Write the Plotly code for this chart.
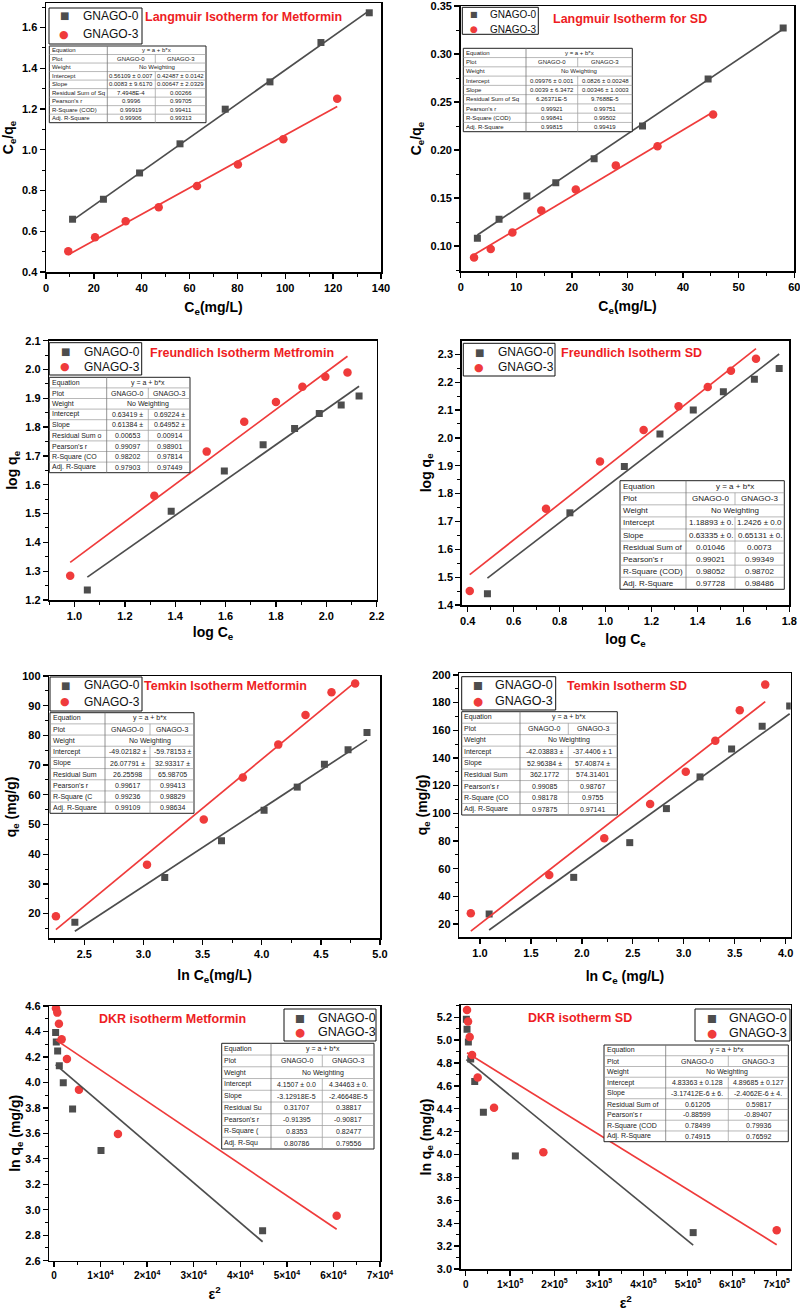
import plotly.graph_objects as go

W, H = 800, 1311
FONT = "Liberation Sans, Arial, sans-serif"
C0 = "#4d4d4d"
C3 = "#ef3b3b"
TRED = "#ee1d23"
NAMES = ["GNAGO-0", "GNAGO-3"]

# ---------------- data ----------------
# Langmuir - Metformin
lang_met_x0 = [11.1, 24.0, 39.1, 56.0, 74.9, 93.6, 114.9, 135.1]
lang_met_y0 = [0.659, 0.757, 0.886, 1.029, 1.199, 1.333, 1.526, 1.672]
lang_met_x3 = [9.3, 20.5, 33.3, 47.1, 63.1, 80.2, 99.2, 121.7]
lang_met_y3 = [0.502, 0.570, 0.649, 0.718, 0.822, 0.927, 1.052, 1.250]
lang_met_fit = [(0.56109, 0.0083), (0.42487, 0.00647)]

# Langmuir - SD
lang_sd_x0 = [3.0, 6.9, 11.9, 17.1, 24.0, 32.7, 44.5, 58.0]
lang_sd_y0 = [0.108, 0.128, 0.152, 0.166, 0.191, 0.225, 0.274, 0.327]
lang_sd_x3 = [2.4, 5.4, 9.3, 14.5, 20.7, 27.9, 35.4, 45.4]
lang_sd_y3 = [0.088, 0.097, 0.114, 0.137, 0.159, 0.184, 0.204, 0.237]
lang_sd_fit = [(0.09976, 0.0039), (0.0826, 0.00346)]

# Freundlich - Metformin
fr_met_x0 = [1.051, 1.384, 1.595, 1.749, 1.874, 1.972, 2.059, 2.130]
fr_met_y0 = [1.235, 1.508, 1.648, 1.739, 1.795, 1.847, 1.877, 1.908]
fr_met_x3 = [0.983, 1.317, 1.525, 1.674, 1.800, 1.905, 1.996, 2.084]
fr_met_y3 = [1.284, 1.562, 1.715, 1.819, 1.887, 1.940, 1.975, 1.990]
fr_met_fit = [(0.63419, 0.61384), (0.69224, 0.64952)]

# Freundlich - SD
fr_sd_x0 = [0.486, 0.845, 1.082, 1.237, 1.382, 1.513, 1.648, 1.756]
fr_sd_y0 = [1.440, 1.731, 1.897, 2.014, 2.100, 2.166, 2.211, 2.249]
fr_sd_x3 = [0.409, 0.741, 0.976, 1.166, 1.318, 1.445, 1.546, 1.655]
fr_sd_y3 = [1.450, 1.746, 1.915, 2.028, 2.114, 2.183, 2.241, 2.284]
fr_sd_fit = [(1.18893, 0.63335), (1.2426, 0.65131)]

# Temkin - Metformin
tk_met_x0 = [2.42, 3.18, 3.66, 4.02, 4.30, 4.53, 4.73, 4.89]
tk_met_y0 = [17.1, 32.2, 44.5, 54.8, 62.6, 70.3, 75.2, 81.0]
tk_met_x3 = [2.26, 3.03, 3.51, 3.84, 4.14, 4.37, 4.59, 4.79]
tk_met_y3 = [19.1, 36.5, 51.7, 65.8, 76.9, 86.9, 94.5, 97.5]
tk_met_fit = [(-49.02182, 26.07791), (-59.78153, 32.93317)]

# Temkin - SD
tk_sd_x0 = [1.09, 1.92, 2.47, 2.83, 3.16, 3.47, 3.77, 4.04]
tk_sd_y0 = [27.2, 53.7, 78.8, 103.4, 126.3, 146.5, 162.9, 177.6]
tk_sd_x3 = [0.91, 1.68, 2.22, 2.67, 3.02, 3.31, 3.55, 3.80]
tk_sd_y3 = [27.7, 55.4, 81.9, 106.7, 130.1, 152.5, 174.5, 193.0]
tk_sd_fit = [(-42.03883, 52.96384), (-37.4406, 57.40874)]

# DKR - Metformin
dkr_met_x0 = [360, 500, 790, 1150, 2000, 4000, 10100, 44800]
dkr_met_y0 = [4.391, 4.317, 4.247, 4.131, 3.998, 3.791, 3.466, 2.836]
dkr_met_x3 = [430, 720, 1070, 1650, 2790, 5370, 13740, 60700]
dkr_met_y3 = [4.582, 4.548, 4.461, 4.338, 4.184, 3.943, 3.595, 2.953]
dkr_met_fit = [(4.1507, -3.12918e-5), (4.34463, -2.46648e-5)]

# DKR - SD
dkr_sd_x0 = [1500, 3000, 6000, 11250, 20300, 39800, 111800, 512000]
dkr_sd_y0 = [5.183, 5.095, 4.984, 4.836, 4.638, 4.370, 3.988, 3.318]
dkr_sd_x3 = [3000, 5300, 9000, 14300, 27000, 63800, 174800, 700000]
dkr_sd_y3 = [5.264, 5.162, 5.028, 4.871, 4.673, 4.410, 4.020, 3.338]
dkr_sd_fit = [(4.83363, -3.17412e-6), (4.89685, -2.4062e-6)]

# tick labels for the epsilon^2 axes
eps4_vals = [0, 1e4, 2e4, 3e4, 4e4, 5e4, 6e4, 7e4]
eps4_text = ["0"] + ["%d×10<sup>4</sup>" % k for k in range(1, 8)]
eps5_vals = [0, 1e5, 2e5, 3e5, 4e5, 5e5, 6e5, 7e5]
eps5_text = ["0"] + ["%d×10<sup>5</sup>" % k for k in range(1, 8)]

# fit-report tables
def report(labels, icpt, slope, rss, pr, r2, ar2):
    return [
        (labels[0], "y = a + b*x"),
        (labels[1], "GNAGO-0", "GNAGO-3"),
        (labels[2], "No Weighting"),
        (labels[3],) + icpt,
        (labels[4],) + slope,
        (labels[5],) + rss,
        (labels[6],) + pr,
        (labels[7],) + r2,
        (labels[8],) + ar2,
    ]

def labs(rss, r2, ar2):
    return ["Equation", "Plot", "Weight", "Intercept", "Slope", rss, "Pearson's r", r2, ar2]

tab1 = report(labs("Residual Sum of Sq", "R-Square (COD)", "Adj. R-Square"),
              ("0.56109 ± 0.007", "0.42487 ± 0.0142"), ("0.0083 ± 9.6170", "0.00647 ± 2.0329"),
              ("7.4948E-4", "0.00266"), ("0.9996", "0.99705"), ("0.99919", "0.99411"), ("0.99906", "0.99313"))
tab2 = report(labs("Residual Sum of Sq", "R-Square (COD)", "Adj. R-Square"),
              ("0.09976 ± 0.001", "0.0826 ± 0.00248"), ("0.0039 ± 6.3472", "0.00346 ± 1.0003"),
              ("6.26371E-5", "9.7688E-5"), ("0.99921", "0.99751"), ("0.99841", "0.99502"), ("0.99815", "0.99419"))
tab3 = report(labs("Residual Sum o", "R-Square (CO", "Adj. R-Square"),
              ("0.63419 ±", "0.69224 ±"), ("0.61384 ±", "0.64952 ±"),
              ("0.00653", "0.00914"), ("0.99097", "0.98901"), ("0.98202", "0.97814"), ("0.97903", "0.97449"))
tab4 = report(labs("Residual Sum of", "R-Square (COD)", "Adj. R-Square"),
              ("1.18893 ± 0.", "1.2426 ± 0.0"), ("0.63335 ± 0.", "0.65131 ± 0."),
              ("0.01046", "0.0073"), ("0.99021", "0.99349"), ("0.98052", "0.98702"), ("0.97728", "0.98486"))
tab5 = report(labs("Residual Sum", "R-Square (C", "Adj. R-Square"),
              ("-49.02182 ±", "-59.78153 ±"), ("26.07791 ±", "32.93317 ±"),
              ("26.25598", "65.98705"), ("0.99617", "0.99413"), ("0.99236", "0.98829"), ("0.99109", "0.98634"))
tab6 = report(labs("Residual Sum", "R-Square (CO", "Adj. R-Square"),
              ("-42.03883 ±", "-37.4406 ± 1"), ("52.96384 ±", "57.40874 ±"),
              ("362.1772", "574.31401"), ("0.99085", "0.98767"), ("0.98178", "0.9755"), ("0.97875", "0.97141"))
tab7 = report(labs("Residual Su", "R-Square (", "Adj. R-Squ"),
              ("4.1507 ± 0.0", "4.34463 ± 0."), ("-3.12918E-5", "-2.46648E-5"),
              ("0.31707", "0.38817"), ("-0.91395", "-0.90817"), ("0.8353", "0.82477"), ("0.80786", "0.79556"))
tab8 = report(labs("Residual Sum of", "R-Square (COD", "Adj. R-Square"),
              ("4.83363 ± 0.128", "4.89685 ± 0.127"), ("-3.17412E-6 ± 6.", "-2.4062E-6 ± 4."),
              ("0.61205", "0.59817"), ("-0.88599", "-0.89407"), ("0.78499", "0.79936"), ("0.74915", "0.76592"))

# ---------------- layout helpers ----------------
def px(x):
    return x / W

def py(y):
    return 1 - y / H

panels = [
    dict(d=(lang_met_x0, lang_met_y0, lang_met_x3, lang_met_y3), fit=lang_met_fit,
         area=(46, 3, 381, 272), xr=[0, 140], yr=[0.4, 1.72],
         xt=(0, 20, 10, ""), yt=(0.4, 0.2, 0.1, ".1f"), xs=9, ys=5,
         xtitle="C<sub>e</sub>(mg/L)", ytitle="C<sub>e</sub>/q<sub>e</sub>",
         title="Langmuir Isotherm for Metformin", tpos=(243, 17),
         leg=dict(box=(49, 8, 142, 44), mx=64, my=(16, 34), tx=82, fs=12),
         tab=tab1, tbox=(49.3, 46, 206, 122.7), tsplit=(107.3, 155.3), tfs=6),
    dict(d=(lang_sd_x0, lang_sd_y0, lang_sd_x3, lang_sd_y3), fit=lang_sd_fit,
         area=(460.7, 6, 794.3, 271), xr=[0, 60], yr=[0.074, 0.35],
         xt=(0, 10, 5, ""), yt=(0.1, 0.05, 0.025, ".2f"), xs=9, ys=5,
         xtitle="C<sub>e</sub>(mg/L)", ytitle="C<sub>e</sub>/q<sub>e</sub>",
         title="Langmuir Isotherm for SD", tpos=(630, 19),
         leg=dict(box=(462.3, 7.3, 538.3, 34.3), mx=474, my=(15, 29), tx=489, fs=10),
         tab=tab2, tbox=(463.3, 48.3, 632.3, 131.7), tsplit=(526, 577.7), tfs=6),
    dict(d=(fr_met_x0, fr_met_y0, fr_met_x3, fr_met_y3), fit=fr_met_fit,
         area=(49.3, 340.7, 376.7, 600), xr=[0.9, 2.2], yr=[1.2, 2.1],
         xt=(1.0, 0.2, 0.1, ".1f"), yt=(1.2, 0.1, 0.05, ".1f"), xs=6, ys=4,
         xtitle="log C<sub>e</sub>", ytitle="log q<sub>e</sub>",
         title="Freundlich Isotherm Metfromin", tpos=(242, 353),
         leg=dict(box=(49.3, 342.7, 141.7, 375), mx=65, my=(351.7, 366.7), tx=82.7, fs=12),
         tab=tab3, tbox=(49.3, 377.3, 190, 472.7), tsplit=(106.7, 148.3), tfs=7),
    dict(d=(fr_sd_x0, fr_sd_y0, fr_sd_x3, fr_sd_y3), fit=fr_sd_fit,
         area=(461.7, 340.7, 789.3, 605), xr=[0.374, 1.8], yr=[1.4, 2.349],
         xt=(0.4, 0.2, 0.1, ".1f"), yt=(1.4, 0.1, 0.05, ".1f"), xs=8, ys=3,
         xtitle="log C<sub>e</sub>", ytitle="log q<sub>e</sub>",
         title="Freundlich Isotherm SD", tpos=(631, 353),
         leg=dict(box=(463.3, 343.3, 555, 376), mx=479, my=(352.3, 367.3), tx=496.7, fs=12),
         tab=tab4, tbox=(620, 480.7, 784.3, 589.3), tsplit=(686, 735), tfs=8),
    dict(d=(tk_met_x0, tk_met_y0, tk_met_x3, tk_met_y3), fit=tk_met_fit,
         area=(49.3, 676, 380, 938), xr=[2.204, 5.0], yr=[11.8, 100],
         xt=(2.5, 0.5, 0.25, ".1f"), yt=(20, 10, 5, ""), xs=11, ys=2,
         xtitle="ln C<sub>e</sub>(mg/L)", ytitle="q<sub>e</sub> (mg/g)",
         title="Temkin Isotherm Metformin", tpos=(225, 686),
         leg=dict(box=(50, 677, 142, 711), mx=65, my=(685, 701.7), tx=83.3, fs=12),
         tab=tab5, tbox=(50, 712.7, 194, 813.3), tsplit=(105, 150), tfs=7),
    dict(d=(tk_sd_x0, tk_sd_y0, tk_sd_x3, tk_sd_y3), fit=tk_sd_fit,
         area=(459.3, 673, 790.7, 937), xr=[0.797, 4.05], yr=[10.6, 201.4],
         xt=(1.0, 0.5, 0.25, ".1f"), yt=(20, 20, 10, ""), xs=13, ys=1,
         xtitle="ln C<sub>e</sub> (mg/L)", ytitle="q<sub>e</sub> (mg/g)",
         title="Temkin Isotherm SD", tpos=(627, 686),
         leg=dict(box=(461.7, 676.7, 555.7, 710), mx=477.7, my=(685, 700.7), tx=494.3, fs=12.5),
         tab=tab6, tbox=(461.7, 711.7, 617.3, 815), tsplit=(520, 568.3), tfs=7),
    dict(d=(dkr_met_x0, dkr_met_y0, dkr_met_x3, dkr_met_y3), fit=dkr_met_fit,
         area=(49.3, 1006, 380, 1260.7), xr=[-1000, 70000], yr=[2.6, 4.6],
         xt=(0, 1e4, 5e3, "eps4"), yt=(2.6, 0.2, 0.1, ".1f"), xs=9, ys=1,
         xtitle="ε<sup>2</sup>", ytitle="ln q<sub>e</sub> (mg/g)",
         title="DKR isotherm Metformin", tpos=(172, 1019),
         leg=dict(box=(284, 1009, 376, 1041), mx=300, my=(1017.7, 1032.3), tx=316.7, fs=12.5),
         tab=tab7, tbox=(221.7, 1043.3, 374, 1149), tsplit=(271, 322.3), tfs=7),
    dict(d=(dkr_sd_x0, dkr_sd_y0, dkr_sd_x3, dkr_sd_y3), fit=dkr_sd_fit,
         area=(460.7, 1005, 790.7, 1269), xr=[-11250, 731500], yr=[3.0, 5.307],
         xt=(0, 1e5, 5e4, "eps5"), yt=(3.0, 0.2, 0.1, ".1f"), xs=12, ys=2,
         xtitle="ε<sup>2</sup>", ytitle="ln q<sub>e</sub> (mg/g)",
         title="DKR isotherm SD", tpos=(580, 1018),
         leg=dict(box=(695, 1009, 790, 1041), mx=711.7, my=(1017.7, 1033.3), tx=728.3, fs=12.5),
         tab=tab8, tbox=(604, 1045, 788.3, 1141.7), tsplit=(665.7, 728.3), tfs=7),
]

fig = go.Figure()
shapes = []
annots = []
layout = {}

def pline(x0, y0, x1, y1, color, width):
    return dict(type="line", xref="paper", yref="paper", x0=px(x0), x1=px(x1),
                y0=py(y0), y1=py(y1), line=dict(color=color, width=width), layer="above")

def ptext(x, y, text, size, color="#222222", anchor="left", family=FONT, weight="normal"):
    return dict(x=px(x), y=py(y), xref="paper", yref="paper", text=text, showarrow=False,
                xanchor=anchor, yanchor="middle", borderpad=0,
                font=dict(family=family, size=size, color=color, weight=weight))

for i, p in enumerate(panels, start=1):
    sfx = "" if i == 1 else str(i)
    xa, ya = "x" + sfx, "y" + sfx
    x0d, y0d, x3d, y3d = p["d"]
    fig.add_trace(go.Scatter(x=x0d, y=y0d, mode="markers", name=NAMES[0], xaxis=xa, yaxis=ya,
                             showlegend=False, marker=dict(symbol="square", size=7, color=C0)))
    fig.add_trace(go.Scatter(x=x3d, y=y3d, mode="markers", name=NAMES[1], xaxis=xa, yaxis=ya,
                             showlegend=False, marker=dict(symbol="circle", size=8.5, color=C3)))
    for (a, b), xs, col, nm in ((p["fit"][0], x0d, C0, NAMES[0]), (p["fit"][1], x3d, C3, NAMES[1])):
        lx = [min(xs), max(xs)]
        fig.add_trace(go.Scatter(x=lx, y=[a + b * v for v in lx], mode="lines", showlegend=False,
                                 name=nm + " fit", xaxis=xa, yaxis=ya,
                                 line=dict(color=col, width=1.7), hoverinfo="skip"))

    L, T, R, B = p["area"]
    tsz = 10 if p["xt"][3].startswith("eps") else 11
    tick_font = dict(family=FONT, size=11, color="black", weight="bold")
    xtick_font = dict(family=FONT, size=tsz, color="black", weight="bold")
    title_font = dict(family=FONT, size=14, color="black", weight="bold")
    xt0, xdt, xmin, xfmt = p["xt"]
    yt0, ydt, ymin, yfmt = p["yt"]
    xax = dict(domain=[px(L), px(R)], range=p["xr"], anchor=ya, showgrid=False, zeroline=False,
               showline=True, linecolor="black", linewidth=1.5, mirror=True,
               ticks="outside", ticklen=5, tickwidth=1.3, tickcolor="black", tickfont=xtick_font,
               ticklabeloverflow="allow",
               minor=dict(ticks="outside", ticklen=3, tickwidth=1, tickcolor="black",
                          tickmode="linear", tick0=xt0, dtick=xmin, showgrid=False),
               title=dict(text=p["xtitle"], font=title_font, standoff=p["xs"]), automargin=False)
    if xfmt == "eps4":
        xax.update(tickmode="array", tickvals=eps4_vals, ticktext=eps4_text)
    elif xfmt == "eps5":
        xax.update(tickmode="array", tickvals=eps5_vals, ticktext=eps5_text)
    else:
        xax.update(tickmode="linear", tick0=xt0, dtick=xdt, tickformat=xfmt)
    yax = dict(domain=[py(B), py(T)], range=p["yr"], anchor=xa, showgrid=False, zeroline=False,
               showline=True, linecolor="black", linewidth=1.5, mirror=True,
               ticks="outside", ticklen=5, tickwidth=1.3, tickcolor="black", tickfont=tick_font,
               tickmode="linear", tick0=yt0, dtick=ydt, tickformat=yfmt, ticklabeloverflow="allow",
               minor=dict(ticks="outside", ticklen=3, tickwidth=1, tickcolor="black",
                          tickmode="linear", tick0=yt0, dtick=ymin, showgrid=False),
               title=dict(text=p["ytitle"], font=title_font, standoff=p["ys"]), automargin=False)
    layout["xaxis" + sfx] = xax
    layout["yaxis" + sfx] = yax

    # legend box (keys drawn as glyphs)
    lg = p["leg"]
    bx0, by0, bx1, by1 = lg["box"]
    shapes.append(dict(type="rect", xref="paper", yref="paper", x0=px(bx0), x1=px(bx1),
                       y0=py(by1), y1=py(by0), fillcolor="white",
                       line=dict(color="#111111", width=1), layer="above"))
    annots.append(ptext(lg["mx"], lg["my"][0], "■", lg["fs"] - 2, C0, "center", "DejaVu Sans"))
    annots.append(ptext(lg["mx"], lg["my"][1], "●", lg["fs"] - 1, C3, "center", "DejaVu Sans"))
    annots.append(ptext(lg["tx"], lg["my"][0], NAMES[0], lg["fs"], "#111111"))
    annots.append(ptext(lg["tx"], lg["my"][1], NAMES[1], lg["fs"], "#111111"))

    tx, ty = p["tpos"]
    annots.append(ptext(tx, ty, p["title"], 12.5, TRED, "center", FONT, "bold"))

    # fit report table
    bx0, by0, bx1, by1 = p["tbox"]
    c1, c2 = p["tsplit"]
    rows = p["tab"]
    n = len(rows)
    rh = (by1 - by0) / n
    shapes.append(dict(type="rect", xref="paper", yref="paper", x0=px(bx0), x1=px(bx1),
                       y0=py(by1), y1=py(by0), fillcolor="white",
                       line=dict(color="#222222", width=1), layer="above"))
    for k in range(1, n):
        yy = by0 + k * rh
        shapes.append(pline(bx0, yy, bx1, yy, "#9a9a9a", 0.7))
    shapes.append(pline(c1, by0, c1, by1, "#777777", 0.8))
    for k, row in enumerate(rows):
        ya0, ya1 = by0 + k * rh, by0 + (k + 1) * rh
        cy = (ya0 + ya1) / 2
        fs = p["tfs"]
        annots.append(ptext(bx0 + 1.5, cy, row[0], fs))
        if len(row) == 2:
            annots.append(ptext((c1 + bx1) / 2, cy, row[1], fs, anchor="center"))
        else:
            shapes.append(pline(c2, ya0, c2, ya1, "#9a9a9a", 0.7))
            annots.append(ptext((c1 + c2) / 2, cy, row[1], fs, anchor="center"))
            annots.append(ptext((c2 + bx1) / 2, cy, row[2], fs, anchor="center"))

fig.update_layout(width=W, height=H, margin=dict(l=0, r=0, t=0, b=0), autosize=False,
                  paper_bgcolor="white", plot_bgcolor="white", showlegend=False,
                  hovermode=False,
                  font=dict(family=FONT, color="black"), shapes=shapes, annotations=annots, **layout)

fig.write_html("out.html", config={"displayModeBar": False, "staticPlot": True},
               post_script="document.body.style.margin='0px';document.body.style.overflow='hidden';")
